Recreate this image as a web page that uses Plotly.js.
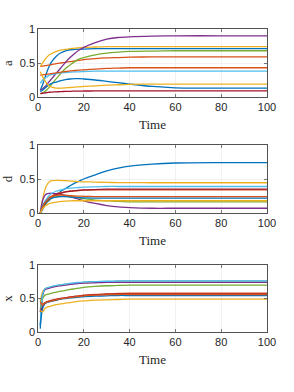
<!DOCTYPE html>
<html>
<head>
<meta charset="utf-8">
<script src="https://cdn.plot.ly/plotly-3.0.1.min.js"></script>
<style>html,body{margin:0;padding:0;background:#fff;}#chart{width:294px;height:392px;}</style>
</head>
<body>
<div id="chart"></div>
<script>
// Time samples
const time = [1,2,3,4,5,6,8,10,12,14,16,18,20,25,30,35,40,50,60,80,100];

// Panel "a" series (10 series)
const a1  = [0.10,0.18,0.28,0.38,0.46,0.52,0.60,0.65,0.68,0.695,0.70,0.705,0.705,0.71,0.71,0.71,0.71,0.71,0.71,0.71,0.71];
const a2  = [0.45,0.455,0.46,0.465,0.47,0.475,0.49,0.50,0.51,0.52,0.53,0.54,0.55,0.565,0.575,0.58,0.585,0.59,0.59,0.59,0.59];
const a3  = [0.45,0.50,0.55,0.59,0.62,0.64,0.67,0.69,0.70,0.71,0.72,0.725,0.73,0.735,0.74,0.74,0.74,0.74,0.74,0.74,0.74];
const a4  = [0.10,0.12,0.15,0.19,0.23,0.27,0.35,0.43,0.51,0.58,0.64,0.69,0.73,0.80,0.85,0.875,0.885,0.895,0.90,0.90,0.90];
const a5  = [0.05,0.06,0.08,0.11,0.15,0.19,0.27,0.35,0.42,0.47,0.52,0.56,0.58,0.62,0.645,0.66,0.67,0.675,0.68,0.68,0.68];
const a6  = [0.20,0.25,0.28,0.30,0.32,0.33,0.345,0.355,0.36,0.365,0.37,0.37,0.375,0.38,0.38,0.38,0.38,0.38,0.38,0.38,0.38];
const a7  = [0.05,0.055,0.06,0.065,0.07,0.072,0.076,0.08,0.082,0.084,0.086,0.087,0.088,0.089,0.09,0.09,0.09,0.09,0.09,0.09,0.09];
const a8  = [0.08,0.10,0.13,0.16,0.18,0.20,0.22,0.24,0.255,0.265,0.27,0.27,0.265,0.25,0.23,0.21,0.19,0.155,0.135,0.13,0.13];
const a9  = [0.32,0.325,0.33,0.335,0.34,0.345,0.355,0.365,0.375,0.385,0.39,0.395,0.40,0.41,0.42,0.425,0.43,0.43,0.43,0.43,0.43];
const a10 = [0.37,0.30,0.24,0.19,0.16,0.145,0.13,0.13,0.135,0.14,0.145,0.15,0.155,0.165,0.175,0.18,0.185,0.19,0.19,0.19,0.19];

// Panel "d" series
const d1  = [0,0.05,0.11,0.16,0.19,0.22,0.27,0.32,0.36,0.40,0.44,0.47,0.50,0.56,0.62,0.66,0.69,0.72,0.735,0.74,0.74];
const d2  = [0,0.10,0.16,0.20,0.23,0.25,0.28,0.30,0.31,0.32,0.325,0.33,0.335,0.34,0.34,0.34,0.34,0.34,0.34,0.34,0.34];
const d3  = [0,0.20,0.34,0.42,0.46,0.475,0.48,0.478,0.475,0.47,0.465,0.46,0.458,0.455,0.45,0.448,0.446,0.445,0.445,0.445,0.445];
const d4  = [0,0.18,0.26,0.285,0.29,0.29,0.285,0.275,0.26,0.24,0.22,0.20,0.18,0.14,0.11,0.09,0.08,0.07,0.07,0.07,0.07];
const d5  = [0,0.08,0.13,0.17,0.20,0.22,0.24,0.245,0.245,0.24,0.23,0.22,0.21,0.19,0.18,0.17,0.165,0.165,0.165,0.165,0.165];
const d6  = [0,0.10,0.17,0.22,0.26,0.29,0.32,0.34,0.355,0.365,0.37,0.375,0.38,0.385,0.39,0.39,0.39,0.39,0.39,0.39,0.39];
const d7  = [0,0.08,0.14,0.18,0.21,0.24,0.27,0.29,0.31,0.32,0.33,0.335,0.34,0.345,0.35,0.35,0.35,0.35,0.35,0.35,0.35];
const d8  = [0,0.10,0.15,0.19,0.21,0.22,0.235,0.24,0.24,0.235,0.23,0.225,0.222,0.22,0.22,0.22,0.22,0.22,0.22,0.22,0.22];
const d9  = [0,0.09,0.15,0.19,0.22,0.24,0.26,0.265,0.26,0.255,0.25,0.248,0.245,0.242,0.24,0.24,0.24,0.24,0.24,0.24,0.24];
const d10 = [0,0.06,0.10,0.12,0.14,0.15,0.16,0.17,0.175,0.178,0.18,0.18,0.18,0.18,0.18,0.18,0.18,0.18,0.18,0.18,0.18];

// Panel "x" series
const x1  = [0.05,0.55,0.64,0.655,0.665,0.675,0.69,0.70,0.71,0.72,0.73,0.735,0.74,0.75,0.755,0.758,0.76,0.76,0.76,0.76,0.76];
const x2  = [0.50,0.42,0.44,0.455,0.465,0.475,0.49,0.50,0.51,0.52,0.53,0.54,0.55,0.56,0.57,0.575,0.58,0.58,0.58,0.58,0.58];
const x3  = [0.45,0.60,0.64,0.655,0.665,0.675,0.69,0.70,0.71,0.72,0.725,0.73,0.735,0.745,0.75,0.75,0.75,0.75,0.75,0.75,0.75];
const x4  = [0.30,0.55,0.63,0.645,0.655,0.665,0.68,0.69,0.70,0.71,0.72,0.725,0.73,0.735,0.74,0.74,0.74,0.74,0.74,0.74,0.74];
const x5  = [0.35,0.50,0.55,0.56,0.57,0.58,0.595,0.61,0.62,0.635,0.645,0.655,0.665,0.68,0.69,0.695,0.70,0.70,0.70,0.70,0.70];
const x6  = [0.10,0.56,0.645,0.66,0.67,0.68,0.695,0.705,0.715,0.725,0.735,0.74,0.745,0.752,0.756,0.758,0.76,0.76,0.76,0.76,0.76];
const x7  = [0.30,0.38,0.43,0.45,0.46,0.47,0.485,0.50,0.51,0.52,0.53,0.535,0.545,0.555,0.565,0.57,0.57,0.57,0.57,0.57,0.57];
const x8  = [0.10,0.35,0.42,0.44,0.45,0.46,0.475,0.49,0.50,0.51,0.515,0.52,0.53,0.535,0.54,0.545,0.545,0.545,0.545,0.545,0.545];
const x9  = [0.45,0.40,0.43,0.445,0.455,0.465,0.48,0.495,0.505,0.515,0.525,0.53,0.54,0.55,0.555,0.56,0.56,0.56,0.56,0.56,0.56];
const x10 = [0.32,0.30,0.35,0.37,0.38,0.39,0.41,0.42,0.43,0.44,0.45,0.46,0.465,0.475,0.48,0.485,0.49,0.49,0.49,0.49,0.49];

const seriesA = [a1,a2,a3,a4,a5,a6,a7,a8,a9,a10];
const seriesD = [d1,d2,d3,d4,d5,d6,d7,d8,d9,d10];
const seriesX = [x1,x2,x3,x4,x5,x6,x7,x8,x9,x10];

const panelLabels = ["a","d","x"];
const xTicks = [0,20,40,60,80,100];
const yTicks = [0,0.5,1];
const yTickText = ["0","0.5","1"];

const colors = ["#0072BD","#D95319","#EDB120","#7E2F8E","#77AC30","#4DBEEE","#A2142F"];

const traces = [];
const panels = [seriesA, seriesD, seriesX];
panels.forEach((set, p) => {
  set.forEach((vals, i) => {
    traces.push({
      x: time, y: vals, type: "scatter", mode: "lines",
      line: {color: colors[i % colors.length], width: 1.3, shape: "spline", smoothing: 0.8},
      xaxis: p === 0 ? "x" : "x" + (p + 1),
      yaxis: p === 0 ? "y" : "y" + (p + 1),
      showlegend: false, hoverinfo: "skip"
    });
  });
});

const W = 294, H = 392;
const xDom = [38 / W, 267 / W];
const yDoms = [[1 - 97 / H, 1 - 29 / H], [1 - 213 / H, 1 - 145 / H], [1 - 332 / H, 1 - 265 / H]];

const tickFont = {family: "Liberation Sans, Arial, sans-serif", size: 11, color: "#262626"};
const titleFont = {family: "Liberation Serif, Times New Roman, serif", size: 13, color: "#262626"};

const layout = {
  width: W, height: H,
  margin: {l: 0, r: 0, t: 0, b: 0},
  paper_bgcolor: "#ffffff", plot_bgcolor: "#ffffff",
  showlegend: false
};
for (let p = 0; p < 3; p++) {
  const xa = p === 0 ? "xaxis" : "xaxis" + (p + 1);
  const ya = p === 0 ? "yaxis" : "yaxis" + (p + 1);
  layout[xa] = {
    domain: xDom, anchor: p === 0 ? "y" : "y" + (p + 1),
    range: [0, 100], tickvals: xTicks, ticks: "inside", ticklen: 3, tickwidth: 0.6,
    tickcolor: "#262626", showline: true, linecolor: "#262626", linewidth: 0.8, mirror: "ticks",
    showgrid: true, gridcolor: "#e8e8e8", gridwidth: 0.6, zeroline: false,
    tickfont: tickFont,
    title: {text: "Time", font: titleFont, standoff: 7}
  };
  layout[ya] = {
    domain: yDoms[p], anchor: p === 0 ? "x" : "x" + (p + 1),
    range: [0, 1], tickvals: yTicks, ticktext: yTickText, ticks: "inside", ticklen: 3, tickwidth: 0.6,
    tickcolor: "#262626", showline: true, linecolor: "#262626", linewidth: 0.8, mirror: "ticks",
    showgrid: true, gridcolor: "#e8e8e8", gridwidth: 0.6, zeroline: false,
    tickfont: tickFont,
    title: {text: panelLabels[p], font: titleFont, standoff: 4}
  };
}

Plotly.newPlot("chart", traces, layout, {staticPlot: true, displayModeBar: false});
</script>
</body>
</html>
